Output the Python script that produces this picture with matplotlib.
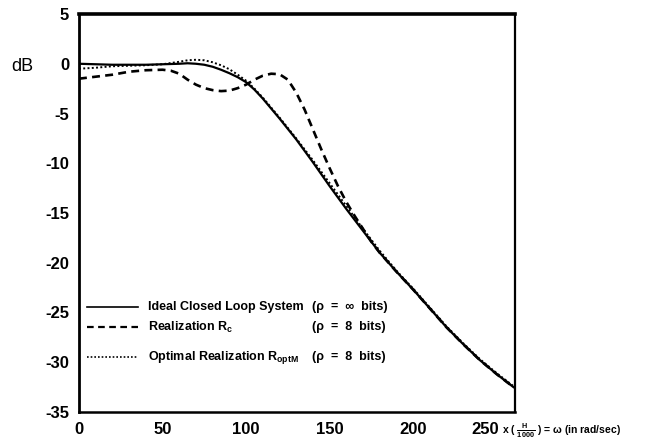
import matplotlib
matplotlib.use("Agg")
import matplotlib.pyplot as plt
from matplotlib.lines import Line2D

plt.rcParams['font.family'] = ['Liberation Sans', 'DejaVu Sans']
plt.rcParams['mathtext.fontset'] = 'custom'
plt.rcParams['mathtext.rm'] = 'Liberation Sans:bold'
plt.rcParams['mathtext.it'] = 'Liberation Sans:italic'

# frequency axis (x 1000 rad/sec)
x_ideal = [0, 10, 20, 30, 40, 50, 60, 65, 70, 75, 80, 85, 90, 95, 100, 105, 110, 115,
           120, 130, 140, 150, 160, 170, 180, 190, 200, 210, 220, 230, 240, 250, 260]
db_ideal = [0.0, -0.05, -0.1, -0.1, -0.1, -0.05, 0.0, 0.05, 0.0, -0.1, -0.3, -0.6,
            -0.95, -1.35, -1.85, -2.6, -3.5, -4.5, -5.5, -7.6, -9.9, -12.3, -14.6,
            -16.8, -19.0, -20.9, -22.7, -24.6, -26.5, -28.2, -29.8, -31.2, -32.5]

x_rc = [0, 10, 20, 30, 40, 50, 55, 60, 65, 70, 75, 80, 85, 90, 95, 100, 105, 110, 115,
        120, 125, 130, 135, 140, 145, 150, 155, 160, 165, 170, 175, 180, 190, 200,
        210, 220, 230, 240, 250, 260]
db_rc = [-1.5, -1.3, -1.1, -0.8, -0.65, -0.6, -0.7, -1.0, -1.6, -2.1, -2.45, -2.65,
         -2.75, -2.7, -2.45, -2.1, -1.6, -1.2, -1.0, -1.05, -1.6, -2.9, -4.6, -6.6,
         -8.6, -10.5, -12.3, -13.9, -15.3, -16.6, -17.9, -19.0, -20.9, -22.7, -24.6,
         -26.5, -28.2, -29.8, -31.2, -32.5]

x_opt = [0, 10, 20, 30, 40, 50, 60, 65, 70, 75, 80, 85, 90, 95, 100, 105, 110, 115,
         120, 130, 140, 150, 160, 170, 180, 190, 200, 210, 220, 230, 240, 250, 260]
db_opt = [-0.5, -0.4, -0.25, -0.2, -0.15, -0.05, 0.2, 0.35, 0.4, 0.35, 0.15, -0.15,
          -0.55, -1.1, -1.7, -2.5, -3.4, -4.4, -5.4, -7.5, -9.7, -12.0, -14.3, -16.6,
          -18.8, -20.8, -22.6, -24.5, -26.4, -28.1, -29.7, -31.1, -32.4]

xticks = [0, 50, 100, 150, 200]
yticks = [5, 0, -5, -10, -15, -20, -25, -30, -35]

fig = plt.figure(figsize=(6.71, 4.42), dpi=100)
ax = fig.add_axes([0.1177, 0.0679, 0.65, 0.9004])

ax.plot(x_ideal, db_ideal, color='black', lw=1.6, ls='-')
ax.plot(x_rc, db_rc, color='black', lw=1.9, ls=(0, (3.0, 2.0)))
ax.plot(x_opt, db_opt, color='black', lw=1.4, ls=(0, (1.0, 1.2)))

ax.set_xlim(0, 261)
ax.set_ylim(-35, 5)
ax.set_xticks(xticks)
ax.set_yticks(yticks)
ax.set_yticklabels([str(v) for v in yticks])
ax.tick_params(axis='both', length=0, labelsize=12, pad=7)
for lbl in ax.get_xticklabels() + ax.get_yticklabels():
    lbl.set_fontweight('bold')
for side, w in zip(['left', 'right', 'top', 'bottom'], [2.0, 1.6, 2.6, 1.8]):
    ax.spines[side].set_linewidth(w)

ax.text(-0.131, 0.867, 'dB', transform=ax.transAxes, fontsize=13,
        ha='center', va='center')
ax.annotate('250', xy=(235, 0), xycoords=('data', 'axes fraction'),
            xytext=(0, -16), textcoords='offset points', fontsize=12,
            fontweight='bold', ha='left', va='baseline')
ax.annotate(r'x ( $\frac{\mathrm{H}}{\mathrm{1000}}$ ) = ω (in rad/sec)',
            xy=(253, 0), xycoords=('data', 'axes fraction'),
            xytext=(0, -16), textcoords='offset points', fontsize=7.5,
            fontweight='bold', ha='left', va='baseline')

# hand-made legend
leg_rows = [
    ('-', 1.2, 'Ideal Closed Loop System', r'(ρ  =  ∞  bits)', 0.264),
    ((0, (3.0, 2.0)), 1.6, r'Realization R$_\mathrm{c}$', '(ρ  =  8  bits)', 0.2136),
    ((0, (1.0, 1.2)), 1.2, r'Optimal Realization R$_\mathrm{optM}$', '(ρ  =  8  bits)', 0.138),
]
for ls, lw, name, bits, yy in leg_rows:
    ax.add_line(Line2D([0.018, 0.135], [yy, yy], transform=ax.transAxes,
                       color='black', ls=ls, lw=lw))
    ax.text(0.158, yy, name, transform=ax.transAxes, fontsize=9,
            fontweight='bold', ha='left', va='center')
    ax.text(0.535, yy, bits, transform=ax.transAxes, fontsize=9,
            fontweight='bold', ha='left', va='center')

fig.savefig('out.png', dpi=100)
